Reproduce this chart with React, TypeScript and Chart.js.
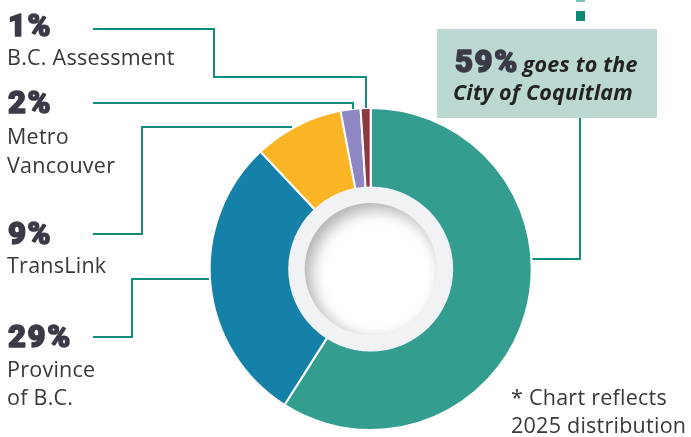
import React, { useEffect, useRef } from "react";
import { Chart, registerables } from "chart.js";

Chart.register(...registerables);

// ---- data ----
const categories = ["City of Coquitlam", "Province of B.C.", "TransLink", "Metro Vancouver", "B.C. Assessment"];
const shares = [59, 29, 9, 2, 1];
const percentLabels = ["59%", "29%", "9%", "2%", "1%"];
const sliceColors = ["#339e90", "#1581a8", "#fbb424", "#8e87c3", "#8b3b3f"];

const W = 691;
const H = 437;
const LINE = "#0f8f7c";
const FONT = "'Open Sans', 'Noto Sans', sans-serif";
const HEAVY = "Roboto, Lato, sans-serif";

type Route = { pts: number[][]; end: "h" | "v"; dir: number; gap: number };
// leader lines: fixed elbows, last point found on the doughnut's outer edge
const routes: Route[] = [
  { pts: [[580, 118], [580, 259]], end: "h", dir: 1, gap: 2 },
  { pts: [[93, 337], [132, 337], [132, 279]], end: "h", dir: -1, gap: 2 },
  { pts: [[93, 234], [142, 234], [142, 127]], end: "h", dir: -1, gap: 5 },
  { pts: [[93, 103], [353, 103]], end: "v", dir: -1, gap: 1 },
  { pts: [[93, 29], [214, 29], [214, 77], [366, 77]], end: "v", dir: -1, gap: 1 },
];

const holePlugin = {
  id: "hole",
  afterDatasetsDraw(chart: any) {
    const arc = chart.getDatasetMeta(0).data[0];
    if (!arc) return;
    const { x: cx, y: cy } = arc;
    const ctx = chart.ctx;
    ctx.save();
    ctx.beginPath();
    ctx.arc(cx, cy, 82.5, 0, Math.PI * 2);
    ctx.fillStyle = "#f1f2f4";
    ctx.fill();
    const r2 = 66;
    ctx.beginPath();
    ctx.arc(cx, cy, r2, 0, Math.PI * 2);
    ctx.clip();
    ctx.fillStyle = "#ffffff";
    ctx.fill();
    ctx.beginPath();
    ctx.arc(cx, cy, r2 + 25, 0, Math.PI * 2);
    ctx.lineWidth = 50;
    ctx.strokeStyle = "#f1f2f4";
    ctx.shadowColor = "rgba(0,0,0,0.32)";
    ctx.shadowBlur = 16;
    ctx.shadowOffsetX = 6;
    ctx.shadowOffsetY = 6;
    ctx.stroke();
    ctx.restore();
  },
  afterDraw(chart: any) {
    const arc = chart.getDatasetMeta(0).data[0];
    if (!arc) return;
    const { x: cx, y: cy, outerRadius } = arc;
    const R = outerRadius - 1;
    const ctx = chart.ctx;
    ctx.save();
    ctx.strokeStyle = LINE;
    ctx.lineWidth = 2;
    ctx.lineJoin = "miter";
    routes.forEach((rt) => {
      const last = rt.pts[rt.pts.length - 1];
      let end: number[];
      if (rt.end === "h") {
        const dx = Math.sqrt(Math.max(R * R - (last[1] - cy) ** 2, 0));
        const xe = rt.dir > 0 ? cx + dx + rt.gap : cx - dx - rt.gap;
        end = [xe, last[1]];
      } else {
        const dy = Math.sqrt(Math.max(R * R - (last[0] - cx) ** 2, 0));
        end = [last[0], cy - dy - rt.gap];
      }
      ctx.beginPath();
      ctx.moveTo(rt.pts[0][0], rt.pts[0][1]);
      for (let i = 1; i < rt.pts.length; i++) ctx.lineTo(rt.pts[i][0], rt.pts[i][1]);
      ctx.lineTo(end[0], end[1]);
      ctx.stroke();
    });
    // dashed stub above the callout box
    ctx.fillStyle = "#0b8a78";
    ctx.fillRect(576, 11, 9, 10);
    ctx.fillStyle = "#7cc2b6";
    ctx.fillRect(576, 0, 9, 2);
    ctx.restore();
  },
};

export default function App() {
  const ref = useRef<HTMLCanvasElement | null>(null);
  useEffect(() => {
    if (!ref.current) return;
    const chart = new Chart(ref.current, {
      type: "doughnut",
      data: {
        labels: categories,
        datasets: [
          {
            data: shares,
            backgroundColor: sliceColors,
            borderColor: "#ffffff",
            borderWidth: 2,
          },
        ],
      },
      options: {
        responsive: false,
        animation: false,
        radius: 161,
        cutout: 80,
        rotation: 0,
        layout: { padding: { left: 202.7, right: 152.3, top: 101, bottom: 0 } },
        plugins: { legend: { display: false }, tooltip: { enabled: false }, title: { display: false } },
      } as any,
      plugins: [holePlugin],
    });
    return () => chart.destroy();
  }, []);

  const pct = {
    fontFamily: HEAVY,
    fontWeight: 900,
    fontSize: 31,
    letterSpacing: 1.6,
    fill: "#3b3b48",
    stroke: "#3b3b48",
    strokeWidth: 1.5,
    strokeLinejoin: "round",
  } as any;
  const lab = { fontFamily: FONT, fontWeight: 400, fontSize: 21.5, letterSpacing: 0.25, fill: "#383838" } as any;
  const it = { fontFamily: FONT, fontWeight: 700, fontStyle: "italic", fontSize: 21.5, letterSpacing: 0.2, fill: "#222222", stroke: "none" } as any;

  return (
    <div style={{ position: "fixed", left: 0, top: 0, width: W, height: H, background: "#ffffff" }}>
      <canvas ref={ref} width={W} height={H} style={{ position: "absolute", left: 0, top: 0, width: W, height: H }} />
      <div style={{ position: "absolute", left: 437, top: 29, width: 220, height: 89, background: "#bcd8d3" }} />
      <svg width={W} height={H} style={{ position: "absolute", left: 0, top: 0 }}>
        <text x={8} y={36} style={pct}>{percentLabels[4]}</text>
        <text x={7} y={65} style={lab}>B.C. Assessment</text>

        <text x={8} y={113} style={pct}>{percentLabels[3]}</text>
        <text x={7} y={144} style={lab}>Metro</text>
        <text x={7} y={173} style={lab}>Vancouver</text>

        <text x={8} y={244} style={pct}>{percentLabels[2]}</text>
        <text x={7} y={273} style={lab}>TransLink</text>

        <text x={8} y={347} style={pct}>{percentLabels[1]}</text>
        <text x={7} y={377} style={lab}>Province</text>
        <text x={7} y={405} style={lab}>of B.C.</text>

        <text x={455} y={72} style={pct}>
          {percentLabels[0]}
          <tspan style={it} dx={4}>goes to the</tspan>
        </text>
        <text x={453} y={100} style={it}>City of Coquitlam</text>

        <text x={511} y={405} style={lab}>* Chart reflects</text>
        <text x={511} y={433} style={lab}>2025 distribution</text>
      </svg>
    </div>
  );
}
